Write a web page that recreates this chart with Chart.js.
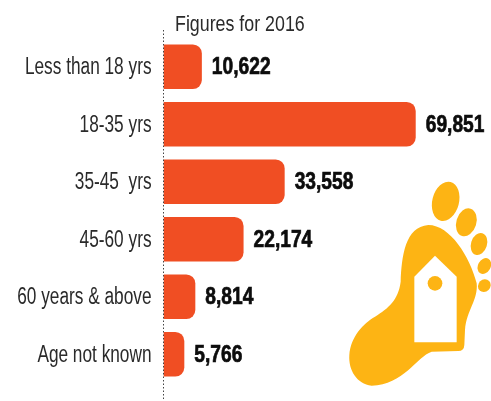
<!DOCTYPE html>
<html>
<head>
<meta charset="utf-8">
<title>Figures for 2016</title>
<script src="https://cdn.jsdelivr.net/npm/chart.js@4"></script>
<style>
    html, body { margin: 0; padding: 0; background: #fff; overflow: hidden; }
    canvas { display: block; }
</style>
</head>
<body>
<canvas id="ageChart" width="491" height="401"></canvas>
<script>
const ageGroups = ['Less than 18 yrs', '18-35 yrs', '35-45  yrs', '45-60 yrs', '60 years & above', 'Age not known'];
const cases = [10622, 69851, 33558, 22174, 8814, 5766];
const heading = 'Figures for 2016';

const baseFont = '"Liberation Sans", sans-serif';

// Text squeezed horizontally, since no condensed face is available
function narrowText(ctx, text, x, y, squeeze, heavy) {
    ctx.save();
    ctx.translate(x, y);
    ctx.scale(squeeze, 1);
    if (heavy) {
        ctx.strokeStyle = ctx.fillStyle;
        ctx.lineWidth = heavy;
        ctx.strokeText(text, 0, 0);
    }
    ctx.fillText(text, 0, 0);
    ctx.restore();
}

// Dotted baseline running past the top and bottom of the bars
const baseline = {
    id: 'baseline',
    afterDatasetsDraw(chart) {
        const ctx = chart.ctx;
        const x = chart.scales.x.getPixelForValue(0);
        ctx.save();
        ctx.strokeStyle = '#444';
        ctx.lineWidth = 1;
        ctx.setLineDash([1.5, 2]);
        ctx.beginPath();
        ctx.moveTo(x, 30);
        ctx.lineTo(x, 401);
        ctx.stroke();
        ctx.restore();
    }
};

// Category names, bold value at the end of each bar, and the heading
const chartText = {
    id: 'chartText',
    afterDatasetsDraw(chart) {
        const ctx = chart.ctx;
        const yScale = chart.scales.y;
        const bars = chart.getDatasetMeta(0).data;
        ctx.save();
        ctx.textBaseline = 'middle';

        ctx.fillStyle = '#2a2a2a';
        ctx.font = '23px ' + baseFont;
        ctx.textAlign = 'right';
        ageGroups.forEach((name, i) => {
            narrowText(ctx, name, 151.5, yScale.getPixelForValue(i) + 1, 0.75);
        });

        ctx.textAlign = 'left';
        ctx.font = '22px ' + baseFont;
        narrowText(ctx, heading, 175, 25, 0.81);

        ctx.fillStyle = '#0c0c0c';
        ctx.font = 'bold 24px ' + baseFont;
        bars.forEach((bar, i) => {
            narrowText(ctx, cases[i].toLocaleString('en-US'), bar.x + 10, bar.y + 1, 0.8, 0.7);
        });
        ctx.restore();
    }
};

// Footprint emblem with the house-shaped tag cut out
const footprint = {
    id: 'footprint',
    afterDraw(chart) {
        const ctx = chart.ctx;
        ctx.save();
        ctx.translate(300, 160);
        ctx.scale(1 / 3, 1 / 3);
        ctx.fillStyle = '#fdb414';

        ctx.beginPath();
        ctx.moveTo(215, 677);
        ctx.bezierCurveTo(170, 672, 145, 630, 148, 585);
        ctx.bezierCurveTo(152, 530, 190, 490, 225, 470);
        ctx.bezierCurveTo(265, 445, 295, 420, 302, 365);
        ctx.bezierCurveTo(305, 290, 315, 200, 385, 195);
        ctx.bezierCurveTo(450, 195, 510, 290, 530, 370);
        ctx.bezierCurveTo(535, 420, 500, 450, 495, 510);
        ctx.lineTo(493, 555);
        ctx.quadraticCurveTo(492, 573, 475, 573);
        ctx.lineTo(395, 575);
        ctx.bezierCurveTo(350, 590, 310, 675, 215, 677);
        ctx.closePath();
        ctx.fill();

        const toes = [
            [437, 124, 40, 60, 0.25],
            [499, 187, 30, 43, 0.3],
            [537, 252, 24, 34, 0.3],
            [553, 318, 19, 25, 0.5],
            [553, 377, 18, 20, 0.8]
        ];
        toes.forEach(t => {
            ctx.beginPath();
            ctx.ellipse(t[0], t[1], t[2], t[3], t[4], 0, Math.PI * 2);
            ctx.fill();
        });

        ctx.fillStyle = '#fff';
        ctx.beginPath();
        ctx.moveTo(343, 350);
        ctx.lineTo(405, 287);
        ctx.lineTo(470, 350);
        ctx.lineTo(470, 547);
        ctx.lineTo(343, 547);
        ctx.closePath();
        ctx.fill();

        ctx.fillStyle = '#fdb414';
        ctx.beginPath();
        ctx.arc(405, 370, 22, 0, Math.PI * 2);
        ctx.fill();
        ctx.restore();
    }
};

new Chart(document.getElementById('ageChart'), {
    type: 'bar',
    data: {
        labels: ageGroups,
        datasets: [{
            data: cases,
            backgroundColor: '#f04e23',
            borderSkipped: false,
            borderRadius: { topLeft: 0, bottomLeft: 0, topRight: 9, bottomRight: 9 },
            categoryPercentage: 1,
            barPercentage: 0.777
        }]
    },
    options: {
        indexAxis: 'y',
        responsive: false,
        animation: false,
        layout: { padding: { top: 38, bottom: 18, left: 0, right: 0 } },
        plugins: {
            legend: { display: false },
            tooltip: { enabled: false }
        },
        scales: {
            x: {
                display: false,
                min: 0,
                max: 90700
            },
            y: {
                afterFit(axis) { axis.width = 163.5; },
                grid: { display: false },
                border: { display: false },
                ticks: { display: false }
            }
        }
    },
    plugins: [baseline, chartText, footprint]
});
</script>
</body>
</html>
